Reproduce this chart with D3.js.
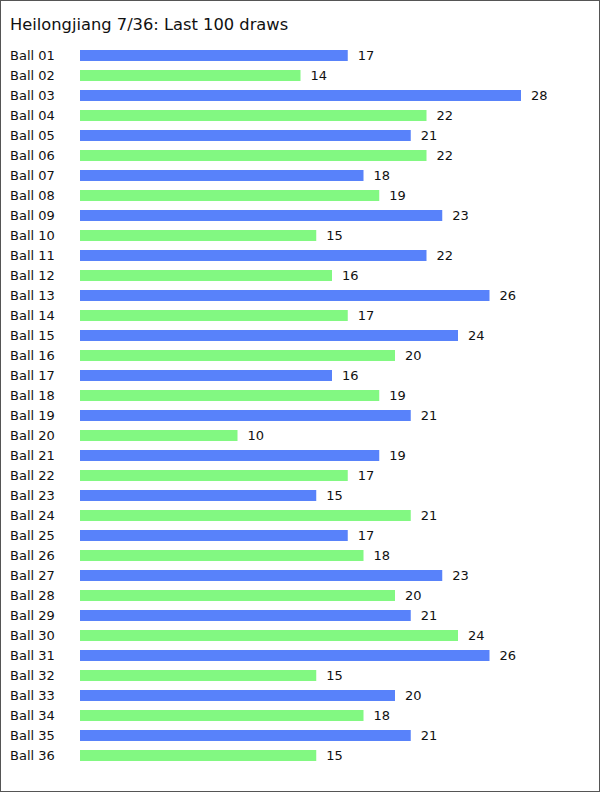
<!DOCTYPE html>
<html><head><meta charset="utf-8">
<script src="https://cdn.jsdelivr.net/npm/d3@7"></script>
<style>body{margin:0;background:#fff}svg{display:block}</style>
</head><body>
<script>
const title = "Heilongjiang 7/36: Last 100 draws";
const balls = ["Ball 01","Ball 02","Ball 03","Ball 04","Ball 05","Ball 06","Ball 07","Ball 08","Ball 09","Ball 10","Ball 11","Ball 12","Ball 13","Ball 14","Ball 15","Ball 16","Ball 17","Ball 18","Ball 19","Ball 20","Ball 21","Ball 22","Ball 23","Ball 24","Ball 25","Ball 26","Ball 27","Ball 28","Ball 29","Ball 30","Ball 31","Ball 32","Ball 33","Ball 34","Ball 35","Ball 36"];
const counts = [17,14,28,22,21,22,18,19,23,15,22,16,26,17,24,20,16,19,21,10,19,17,15,21,17,18,23,20,21,24,26,15,20,18,21,15];
const colors = ["#5882fa","#82f882"];

const W = 600, H = 792;
const svg = d3.select("body").append("svg").attr("width", W).attr("height", H);
svg.append("rect").attr("x",0.5).attr("y",0.5).attr("width",W-1).attr("height",H-1)
  .attr("fill","#fff").attr("stroke","#555");
svg.append("text").attr("x",10).attr("y",30).text(title)
  .attr("font-family","DejaVu Sans, Verdana, sans-serif").attr("font-size",16.3).attr("fill","#111");

const x = d3.scaleLinear().domain([0,28]).range([80,521]);
const y = d3.scaleBand().domain(balls).range([45.5,765.5]).paddingInner(0.45).paddingOuter(0.225);

const g = svg.append("g").attr("font-family","DejaVu Sans, Verdana, sans-serif").attr("font-size",13);
const rows = g.selectAll("g.row").data(balls).join("g");
rows.append("text").attr("x",10).attr("y",d=>y(d)+y.bandwidth()/2+4.5).text(d=>d).attr("fill","#111");
rows.append("rect").attr("x",x(0)).attr("y",d=>y(d)).attr("height",y.bandwidth())
  .attr("width",(d,i)=>x(counts[i])-x(0)).attr("fill",(d,i)=>colors[i%2]);
rows.append("text").attr("x",(d,i)=>x(counts[i])+10).attr("y",d=>y(d)+y.bandwidth()/2+4.5)
  .text((d,i)=>counts[i]).attr("fill","#111");
</script>
</body></html>
